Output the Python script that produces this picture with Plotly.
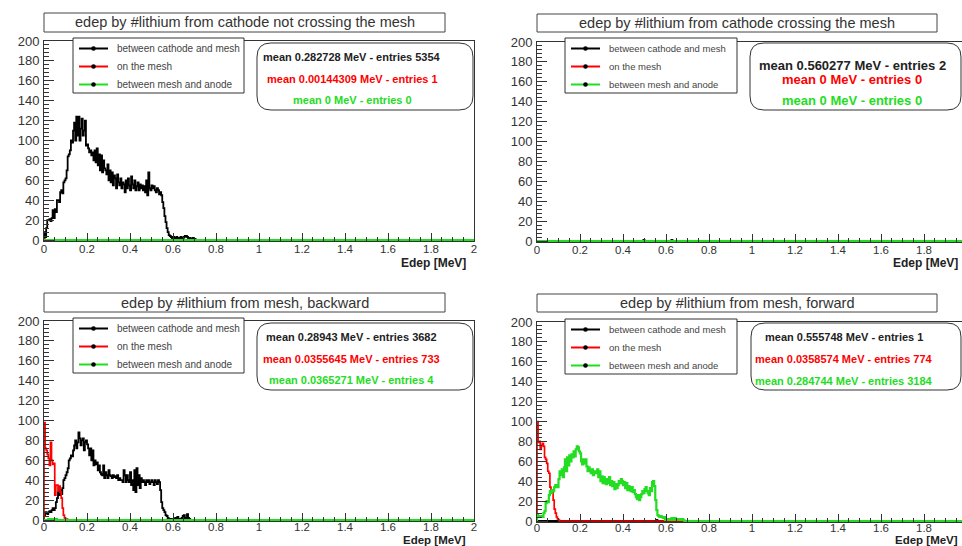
import plotly.graph_objects as go

# ---------------- data ----------------
BIN_WIDTH = 0.005   # MeV per histogram bin
X_MAX = 2.0

panel_titles = [
    "edep by #lithium from cathode not crossing the mesh",
    "edep by #lithium from cathode crossing the mesh",
    "edep by #lithium from mesh, backward",
    "edep by #lithium from mesh, forward",
]
legend_labels = ["between cathode and mesh", "on the mesh", "between mesh and anode"]
series_colors = ["#000000", "#ff0000", "#22dd22"]

p1_cathode_start = 0.0
p1_cathode = [
    8, 3, 12, 20, 20, 21, 19, 22, 30, 22,
    31, 28, 40, 40, 38, 48, 50, 47, 58, 60,
    62, 70, 84, 86, 90, 100, 98, 110, 118, 100,
    124, 105, 124, 100, 112, 122, 105, 110, 120, 95,
    96, 92, 88, 90, 85, 88, 80, 90, 78, 92,
    75, 86, 70, 85, 68, 80, 72, 70, 66, 76,
    60, 70, 58, 68, 55, 65, 62, 52, 66, 58,
    55, 62, 52, 58, 56, 48, 60, 52, 62, 55,
    50, 64, 56, 52, 60, 50, 54, 58, 50, 56,
    52, 55, 50, 54, 48, 60, 45, 68, 52, 50,
    55, 52, 54, 50, 48, 52, 50, 46, 48, 45,
    38, 32, 24, 18, 12, 8, 5, 4, 3, 2,
    3, 2, 2, 3, 2, 1, 2, 3, 2, 2,
    3, 4, 4, 3, 2, 2, 1, 1, 2, 1,
    1,
]
p1_mesh_start = 0.0
p1_mesh = [1]
p1_anode_start = 0.0
p1_anode = []

p2_cathode_start = 0.495
p2_cathode = [1, 0, 0, 0, 0, 0, 0, 0, 0, 0, 0, 0, 0, 0, 0, 0, 0, 0, 0, 0, 0, 0, 0, 0, 0, 0, 1]
p2_mesh_start = 0.0
p2_mesh = []
p2_anode_start = 0.0
p2_anode = []

p3_cathode_start = 0.0
p3_cathode = [
    5, 8, 7, 6, 8, 9, 8, 10, 12, 10,
    12, 18, 22, 28, 25, 30, 26, 32, 40, 42,
    45, 48, 52, 60, 62, 65, 64, 70, 75, 80,
    72, 78, 88, 82, 75, 80, 82, 70, 78, 80,
    76, 72, 65, 72, 60, 70, 55, 60, 56, 58,
    50, 55, 48, 46, 45, 55, 42, 48, 45, 42,
    50, 45, 44, 42, 45, 43, 44, 42, 45, 40,
    42, 40, 40, 38, 50, 45, 38, 45, 40, 38,
    48, 35, 40, 30, 50, 28, 52, 35, 45, 32,
    42, 38, 40, 38, 35, 40, 38, 40, 36, 38,
    40, 38, 35, 40, 38, 36, 40, 38, 30, 18,
    12, 10, 8, 5, 4, 2, 1, 0, 1, 0,
    0, 1, 2, 1, 3, 1, 0, 1, 2, 4,
    5, 2, 1, 6, 2, 1,
]
p3_mesh_start = 0.0
p3_mesh = [98, 72, 70, 66, 62, 55, 78, 60, 56, 57,
           25, 35, 35, 30, 34, 28, 22, 12, 5, 2, 1, 1]
p3_anode_start = 0.02
p3_anode = [1, 0, 1, 0, 1, 0, 0, 1]

p4_cathode_start = 0.555
p4_cathode = [1]
p4_mesh_start = 0.0
p4_mesh = [100, 79, 80, 72, 76, 78, 75, 64, 62, 58,
           50, 48, 34, 31, 30, 21, 12, 8, 4, 2, 1]
p4_anode_start = 0.0
p4_anode = [
    6, 5, 4, 4, 5, 4, 8, 10, 18, 20,
    19, 26, 30, 28, 31, 30, 34, 36, 35, 34,
    42, 50, 46, 52, 44, 54, 62, 50, 64, 56,
    66, 60, 67, 64, 70, 65, 72, 75, 74, 70,
    68, 60, 57, 62, 58, 62, 55, 50, 54, 52,
    48, 52, 46, 50, 48, 50, 52, 44, 50, 40,
    45, 38, 44, 40, 37, 42, 38, 44, 36, 40,
    35, 39, 32, 37, 33, 36, 40, 38, 42, 40,
    36, 39, 33, 38, 31, 35, 32, 30, 34, 29,
    31, 27, 24, 22, 26, 21, 24, 27, 30, 28,
    32, 34, 30, 28, 26, 33, 30, 39, 40, 35,
    21, 11, 6, 5, 4, 5, 4, 3, 4, 1,
    1, 1, 2, 1, 2, 3, 1, 2, 3, 1,
    2, 1, 2, 2, 1, 2, 1,
]

panel_series = [
    [(p1_cathode_start, p1_cathode), (p1_mesh_start, p1_mesh), (p1_anode_start, p1_anode)],
    [(p2_cathode_start, p2_cathode), (p2_mesh_start, p2_mesh), (p2_anode_start, p2_anode)],
    [(p3_cathode_start, p3_cathode), (p3_mesh_start, p3_mesh), (p3_anode_start, p3_anode)],
    [(p4_cathode_start, p4_cathode), (p4_mesh_start, p4_mesh), (p4_anode_start, p4_anode)],
]

stats_text = [
    ["mean 0.282728 MeV - entries 5354", "mean 0.00144309 MeV - entries 1", "mean 0 MeV - entries 0"],
    ["mean 0.560277 MeV - entries 2", "mean 0 MeV - entries 0", "mean 0 MeV - entries 0"],
    ["mean 0.28943 MeV - entries 3682", "mean 0.0355645 MeV - entries 733", "mean 0.0365271 MeV - entries 4"],
    ["mean 0.555748 MeV - entries 1", "mean 0.0358574 MeV - entries 774", "mean 0.284744 MeV - entries 3184"],
]
x_title = "Edep [MeV]"

# ---------------- layout geometry (pixels) ----------------
W, H = 962, 546
PX_PER_MEV = 215.0


def PX(x):
    return x / W


def PY(y):
    return 1 - y / H


panels = [
    dict(x0=44, top=41, bot=241, title=(44, 445, 13, 32), leg=(73, 244, 38, 93),
         stat=(257, 473, 43, 110), stat_cx=352, stat_ys=(57, 79, 100), stat_fs=11,
         leg_fs=10, xlab=(468, 263), xlab_fs=12, xstand=-3),
    dict(x0=537, top=42, bot=242, title=(537, 937, 14, 32), leg=(565, 737, 38, 93),
         stat=(750, 961, 43, 110), stat_cx=852, stat_ys=(65, 79, 100), stat_fs=13,
         leg_fs=9.5, xlab=(960, 263), xlab_fs=12, xstand=-3),
    dict(x0=44, top=321, bot=521, title=(44, 445, 293, 312), leg=(73, 244, 318, 373),
         stat=(257, 473, 323, 390), stat_cx=351, stat_ys=(337, 359, 380), stat_fs=11,
         leg_fs=10, xlab=(468, 540), xlab_fs=11.5, xstand=-5),
    dict(x0=537, top=322, bot=522, title=(537, 937, 294, 312), leg=(565, 737, 319, 374),
         stat=(751, 961, 323, 390), stat_cx=844, stat_ys=(337, 359, 381), stat_fs=11,
         leg_fs=9.5, xlab=(960, 540), xlab_fs=11.5, xstand=-5),
]

FONT = "Liberation Sans, Arial, Helvetica, sans-serif"
AXIS_COL = "#333333"


def hist_xy(start, vals):
    n = len(vals)
    xs = [0.0] + [start + i * BIN_WIDTH for i in range(n)] + [start + n * BIN_WIDTH, X_MAX]
    ys = [0.0] + list(vals) + [0.0, 0.0]
    return xs, ys


fig = go.Figure()
shapes = []
annotations = []
layout_axes = {}

for i, (pan, series) in enumerate(zip(panels, panel_series)):
    k = "" if i == 0 else str(i + 1)
    xname, yname = "x" + k, "y" + k
    x1px = min(pan["x0"] + 2.0 * PX_PER_MEV, W)
    xmax = (x1px - pan["x0"]) / PX_PER_MEV

    for (start, vals), col, width in zip(series, series_colors, [1.8, 1.7, 2.2]):
        xs, ys = hist_xy(start, vals)
        fig.add_trace(go.Scatter(x=xs, y=ys, mode="lines", line=dict(color=col, width=width, shape="hv"),
                                 xaxis=xname, yaxis=yname, showlegend=False, hoverinfo="skip"))

    layout_axes["xaxis" + k] = dict(
        domain=[PX(pan["x0"]), PX(x1px)], range=[0, xmax], anchor=yname, automargin=False,
        tickmode="linear", tick0=0, dtick=0.2, ticks="inside", ticklen=8, tickwidth=1,
        tickcolor=AXIS_COL, showline=True, linecolor=AXIS_COL, linewidth=1, mirror=True,
        showgrid=False, zeroline=False,
        minor=dict(dtick=0.05, ticklen=4, ticks="inside", tickcolor=AXIS_COL, showgrid=False),
        tickfont=dict(family=FONT, size=11.5, color="#333333"), ticklabelstandoff=pan["xstand"],
    )
    layout_axes["yaxis" + k] = dict(
        domain=[PY(pan["bot"]), PY(pan["top"])], range=[-1, 200], anchor=xname, automargin=False,
        tickmode="linear", tick0=0, dtick=20, ticks="inside", ticklen=10, tickwidth=1,
        tickcolor=AXIS_COL, showline=True, linecolor=AXIS_COL, linewidth=1, mirror=True,
        showgrid=False, zeroline=False,
        minor=dict(dtick=4, ticklen=5, ticks="inside", tickcolor=AXIS_COL, showgrid=False),
        tickfont=dict(family=FONT, size=13, color="#333333"), ticklabelstandoff=1,
    )

    tx0, tx1, ty0, ty1 = pan["title"]
    shapes.append(dict(type="rect", xref="paper", yref="paper", x0=PX(tx0), x1=PX(tx1),
                       y0=PY(ty1), y1=PY(ty0), line=dict(color="#444444", width=1), fillcolor="white"))
    annotations.append(dict(xref="paper", yref="paper", x=PX((tx0 + tx1) / 2), y=PY((ty0 + ty1) / 2),
                            text=panel_titles[i], showarrow=False, xanchor="center", yanchor="middle",
                            font=dict(family=FONT, size=14.5, color="#333333")))

    lx0, lx1, ly0, ly1 = pan["leg"]
    shapes.append(dict(type="rect", xref="paper", yref="paper", x0=PX(lx0), x1=PX(lx1),
                       y0=PY(ly1), y1=PY(ly0), line=dict(color="#333333", width=1), fillcolor="white"))
    for j, (lab, col) in enumerate(zip(legend_labels, series_colors)):
        ry = ly0 + 10.5 + j * 18
        shapes.append(dict(type="line", xref="paper", yref="paper", x0=PX(lx0 + 6), x1=PX(lx0 + 35),
                           y0=PY(ry), y1=PY(ry), line=dict(color=col, width=2)))
        cx = lx0 + 20.5
        shapes.append(dict(type="circle", xref="paper", yref="paper", x0=PX(cx - 2.3), x1=PX(cx + 2.3),
                           y0=PY(ry + 2.3), y1=PY(ry - 2.3), line=dict(color="black", width=0),
                           fillcolor="black"))
        annotations.append(dict(xref="paper", yref="paper", x=PX(lx0 + 42), y=PY(ry), text=lab,
                                showarrow=False, xanchor="left", yanchor="middle",
                                font=dict(family=FONT, size=pan["leg_fs"], color="#444444")))

    sx0, sx1, sy0, sy1 = pan["stat"]
    r = 14
    pts = [
        ("M", sx0 + r, sy0), ("L", sx1 - r, sy0), ("Q", sx1, sy0, sx1, sy0 + r),
        ("L", sx1, sy1 - r), ("Q", sx1, sy1, sx1 - r, sy1), ("L", sx0 + r, sy1),
        ("Q", sx0, sy1, sx0, sy1 - r), ("L", sx0, sy0 + r), ("Q", sx0, sy0, sx0 + r, sy0),
    ]
    path = ""
    for p in pts:
        cmd = p[0]
        coords = p[1:]
        s = " ".join(f"{PX(coords[m]):.5f},{PY(coords[m + 1]):.5f}" for m in range(0, len(coords), 2))
        path += f"{cmd} {s} "
    path += "Z"
    shapes.append(dict(type="path", xref="paper", yref="paper", path=path,
                       line=dict(color="#333333", width=1), fillcolor="white"))
    for j, (txt, col) in enumerate(zip(stats_text[i], series_colors)):
        annotations.append(dict(xref="paper", yref="paper", x=PX(pan["stat_cx"]), y=PY(pan["stat_ys"][j]),
                                text="<b>" + txt + "</b>", showarrow=False, xanchor="center", yanchor="middle",
                                font=dict(family=FONT, size=pan["stat_fs"], color=col if j else "#222222")))

    ax_, ay_ = pan["xlab"]
    annotations.append(dict(xref="paper", yref="paper", x=PX(ax_), y=PY(ay_), text="<b>" + x_title + "</b>",
                            showarrow=False, xanchor="right", yanchor="middle",
                            font=dict(family=FONT, size=pan["xlab_fs"], color="#222222")))

fig.update_layout(
    template="none",
    width=W, height=H, margin=dict(l=0, r=0, t=0, b=0, pad=0, autoexpand=False),
    font=dict(family=FONT),
    paper_bgcolor="white", plot_bgcolor="white",
    shapes=shapes, annotations=annotations, showlegend=False,
    **layout_axes,
)

fig.write_html("out.html", config={"displayModeBar": False},
               post_script="document.body.style.margin='0';")
